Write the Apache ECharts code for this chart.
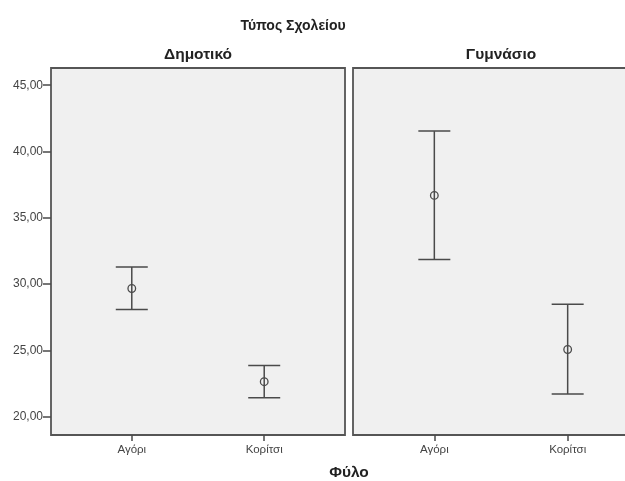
<!DOCTYPE html>
<html>
<head>
<meta charset="utf-8">
<script src="https://cdn.jsdelivr.net/npm/echarts@6/dist/echarts.min.js"></script>
<style>
  html, body { margin: 0; padding: 0; background: #ffffff; overflow: hidden; }
  /* the right panel runs past the page edge, so the canvas is wider than the window */
  #chart { width: 660px; height: 481px; }
</style>
</head>
<body>
<div id="chart"></div>
<script>
// Gender categories (x axis), school types (panels)
var categories = ['Αγόρι', 'Κορίτσι'];
var schoolTypes = ['Δημοτικό', 'Γυμνάσιο'];

// Mean and 95% CI bounds per panel, one entry per gender
var meanPrimary = [29.67, 22.64];
var lowerPrimary = [28.09, 21.43];
var upperPrimary = [31.30, 23.87];

var meanSecondary = [36.69, 25.07];
var lowerSecondary = [31.85, 21.71];
var upperSecondary = [41.54, 28.49];

var yTicks = [20, 25, 30, 35, 40, 45];

var chart = echarts.init(document.getElementById('chart'), null, { renderer: 'canvas' });

var lineColor = '#4a4a4a';
var fontFamily = '"Liberation Sans", Arial, sans-serif';

function buildRows(mean, lower, upper) {
  return categories.map(function (c, i) {
    return [i + 1, mean[i], lower[i], upper[i]];
  });
}

function renderErrorBar(params, api) {
  var x = api.value(0);
  var top = api.coord([x, api.value(3)]);
  var bottom = api.coord([x, api.value(2)]);
  var mid = api.coord([x, api.value(1)]);
  var half = 16;
  var style = { stroke: lineColor, lineWidth: 1.5, fill: null };
  return {
    type: 'group',
    children: [
      { type: 'line', shape: { x1: top[0], y1: top[1], x2: bottom[0], y2: bottom[1] }, style: style },
      { type: 'line', shape: { x1: top[0] - half, y1: top[1], x2: top[0] + half, y2: top[1] }, style: style },
      { type: 'line', shape: { x1: bottom[0] - half, y1: bottom[1], x2: bottom[0] + half, y2: bottom[1] }, style: style },
      { type: 'circle', shape: { cx: mid[0], cy: mid[1], r: 3.8 }, style: { stroke: lineColor, lineWidth: 1.3, fill: 'rgba(0,0,0,0)' } }
    ]
  };
}

function xAxisFor(gridIndex) {
  return {
    type: 'value',
    gridIndex: gridIndex,
    min: 0.39,
    max: 2.61,
    axisLine: { show: false },
    splitLine: { show: false },
    axisTick: { show: true, customValues: [1, 2], length: 6, lineStyle: { color: lineColor, width: 1.5 } },
    axisLabel: {
      customValues: [1, 2],
      formatter: function (v) { return categories[Math.round(v) - 1]; },
      color: '#444', fontSize: 11.5, fontFamily: fontFamily, margin: 9
    }
  };
}

function yAxisFor(gridIndex, showLabels) {
  return {
    type: 'value',
    gridIndex: gridIndex,
    min: 18.62,
    max: 46.3,
    axisLine: { show: false },
    splitLine: { show: false },
    axisTick: { show: showLabels, customValues: yTicks, length: 8, lineStyle: { color: lineColor, width: 1.5 } },
    axisLabel: {
      show: showLabels,
      customValues: yTicks,
      formatter: function (v) { return v.toFixed(2).replace('.', ','); },
      color: '#444', fontSize: 12, fontFamily: fontFamily, margin: 8
    }
  };
}

var gridStyle = { show: true, backgroundColor: '#f0f0f0', borderColor: '#555555', borderWidth: 1.8 };

var option = {
  backgroundColor: '#ffffff',
  animation: false,
  grid: [
    Object.assign({ left: 51, top: 68, width: 294, height: 367 }, gridStyle),
    Object.assign({ left: 353, top: 68, width: 296, height: 367 }, gridStyle)
  ],
  xAxis: [xAxisFor(0), xAxisFor(1)],
  yAxis: [yAxisFor(0, true), yAxisFor(1, false)],
  graphic: [
    { type: 'text', x: 293, y: 26, style: { text: 'Τύπος Σχολείου', textAlign: 'center', textVerticalAlign: 'middle', font: 'bold 14px ' + fontFamily, fill: '#222' } },
    { type: 'text', x: 198, y: 55, style: { text: schoolTypes[0], textAlign: 'center', textVerticalAlign: 'middle', font: 'bold 15.5px ' + fontFamily, fill: '#222' } },
    { type: 'text', x: 501, y: 55, style: { text: schoolTypes[1], textAlign: 'center', textVerticalAlign: 'middle', font: 'bold 15.5px ' + fontFamily, fill: '#222' } },
    { type: 'text', x: 349, y: 473, style: { text: 'Φύλο', textAlign: 'center', textVerticalAlign: 'middle', font: 'bold 15.5px ' + fontFamily, fill: '#222' } }
  ],
  series: [
    {
      type: 'custom', xAxisIndex: 0, yAxisIndex: 0,
      renderItem: renderErrorBar,
      encode: { x: 0, y: [1, 2, 3] },
      data: buildRows(meanPrimary, lowerPrimary, upperPrimary)
    },
    {
      type: 'custom', xAxisIndex: 1, yAxisIndex: 1,
      renderItem: renderErrorBar,
      encode: { x: 0, y: [1, 2, 3] },
      data: buildRows(meanSecondary, lowerSecondary, upperSecondary)
    }
  ]
};

chart.setOption(option);
</script>
</body>
</html>
